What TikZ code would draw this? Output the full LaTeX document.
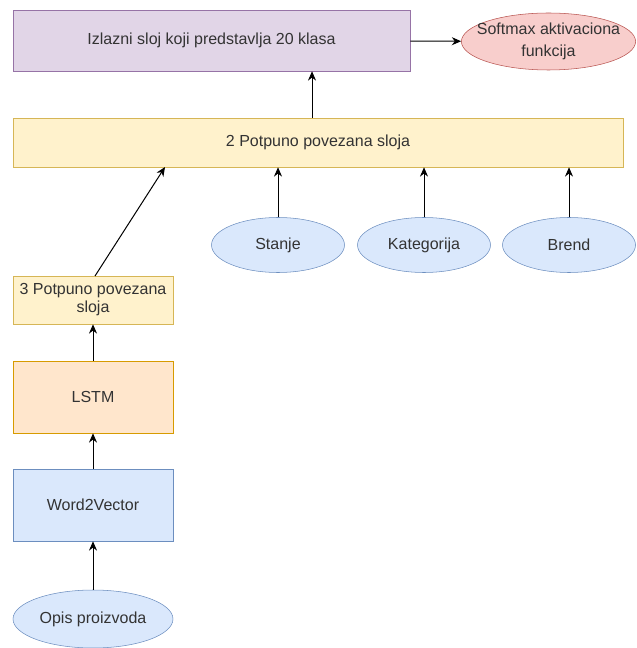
\documentclass[tikz,border=0pt]{standalone}
\usepackage{fontspec}
\setmainfont{Liberation Sans}
\usetikzlibrary{arrows.meta,shapes.geometric}
\definecolor{purplefill}{HTML}{E1D5E7}
\definecolor{purpleline}{HTML}{9673A6}
\definecolor{redfill}{HTML}{F8CECC}
\definecolor{redline}{HTML}{B85450}
\definecolor{yellowfill}{HTML}{FFF2CC}
\definecolor{yellowline}{HTML}{D6B656}
\definecolor{orangefill}{HTML}{FFE6CC}
\definecolor{orangeline}{HTML}{D79B00}
\definecolor{bluefill}{HTML}{DAE8FC}
\definecolor{blueline}{HTML}{6C8EBF}
\definecolor{textgray}{HTML}{333333}
\tikzset{
  box/.style={draw, inner sep=1pt, font=\fontsize{12}{13.5}\selectfont, text=textgray, align=center},
  oval/.style={draw, ellipse, inner sep=0pt, font=\fontsize{12}{13.5}\selectfont, text=textgray, align=center},
  arr/.style={-{Stealth[length=7pt,width=6pt]}, line width=0.75pt}
}
\begin{document}
\begin{tikzpicture}[x=0.75pt, y=-0.75pt]
\useasboundingbox (0,0) rectangle (636,648);
\node[box, fill=purplefill, draw=purpleline, minimum width=297.75pt, minimum height=45.75pt] (izlaz) at (211.5,40.5) {Izlazni sloj koji predstavlja 20 klasa};
\node[oval, fill=redfill, draw=redline, inner xsep=-7.5pt, inner ysep=-2pt, minimum width=128.25pt, minimum height=42.75pt, font=\fontsize{12}{16}\selectfont] (softmax) at (548.5,41.5) {Softmax aktivaciona\\funkcija};
\node[box, fill=yellowfill, draw=yellowline, minimum width=457.5pt, minimum height=36.75pt] (dva) at (318,142.5) {2 Potpuno povezana sloja};
\node[oval, fill=bluefill, draw=blueline, minimum width=99.75pt, minimum height=41.25pt] (stanje) at (278,245) {Stanje};
\node[oval, fill=bluefill, draw=blueline, minimum width=99.75pt, minimum height=41.25pt] (kat) at (424,245) {Kategorija};
\node[oval, fill=bluefill, draw=blueline, minimum width=99.75pt, minimum height=41.25pt] (brend) at (569,245) {Brend};
\node[box, fill=yellowfill, draw=yellowline, minimum width=120pt, minimum height=36pt] (tri) at (93,300) {3 Potpuno povezana\\sloja};
\node[box, fill=orangefill, draw=orangeline, minimum width=120pt, minimum height=54pt] (lstm) at (93,397) {LSTM};
\node[box, fill=bluefill, draw=blueline, minimum width=120pt, minimum height=54pt] (w2v) at (93,505) {Word2Vector};
\node[oval, fill=bluefill, draw=blueline, minimum width=120pt, minimum height=43.5pt] (opis) at (93,619) {Opis proizvoda};
\coordinate (triulaz) at (165,167);
\coordinate (triizlaz) at (95,276);
\draw[arr] (izlaz) -- (softmax);
\draw[arr] (dva.north -| 312,0) -- (izlaz.south -| 312,0);
\draw[arr] (stanje) -- (stanje |- dva.south);
\draw[arr] (kat) -- (kat |- dva.south);
\draw[arr] (brend) -- (brend |- dva.south);
\draw[arr] (triizlaz) -- (triulaz);
\draw[arr] (lstm) -- (tri);
\draw[arr] (w2v) -- (lstm);
\draw[arr] (opis) -- (w2v);
\end{tikzpicture}
\end{document}
